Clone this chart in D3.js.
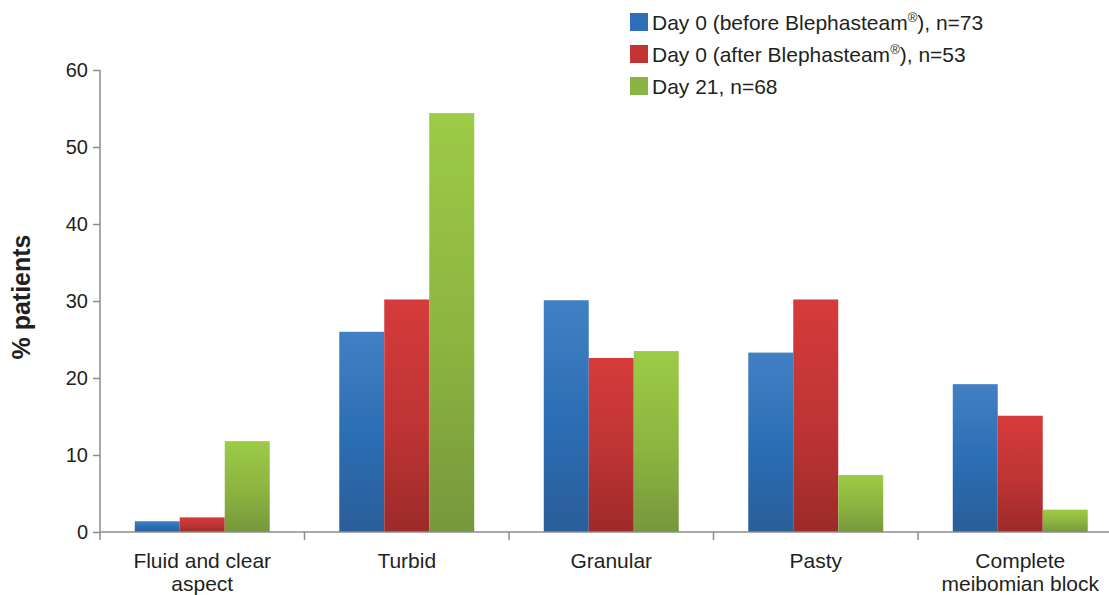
<!DOCTYPE html>
<html><head><meta charset="utf-8">
<script src="https://cdn.jsdelivr.net/npm/d3@7"></script>
<style>body{margin:0;background:#fff}svg{display:block}text{font-family:Arial,"Liberation Sans",sans-serif;fill:#231f20}</style>
</head><body>
<script>
const categories = [["Fluid and clear","aspect"],["Turbid"],["Granular"],["Pasty"],["Complete","meibomian block"]];
const seriesNames = ["Day 0 (before Blephasteam\u00AE), n=73","Day 0 (after Blephasteam\u00AE), n=53","Day 21, n=68"];
const before = [1.4, 26.0, 30.1, 23.3, 19.2];
const after = [1.9, 30.2, 22.6, 30.2, 15.1];
const day21 = [11.8, 54.4, 23.5, 7.4, 2.9];
const yTicks = [0,10,20,30,40,50,60];

const W=1109,H=595;
const svg=d3.select("body").append("svg").attr("width",W).attr("height",H);
const defs=svg.append("defs");
const grads=[["gB","#4280c4","#2a6db3","#2b5d99"],["gR","#d63b3b","#be3434","#9d2a2a"],["gG","#9ccb46","#8bb440","#76983c"]];
grads.forEach(([id,a,b,c])=>{
  const g=defs.append("linearGradient").attr("id",id).attr("x1",0).attr("y1",0).attr("x2",0).attr("y2",1);
  g.append("stop").attr("offset","0%").attr("stop-color",a);
  g.append("stop").attr("offset","55%").attr("stop-color",b);
  g.append("stop").attr("offset","100%").attr("stop-color",c);
});
const fills=["url(#gB)","url(#gR)","url(#gG)"];
const legendColors=["#2f6fb8","#c23333","#8ab543"];

const x0=100, yBase=532, yTop=70;
const y=d3.scaleLinear().domain([0,60]).range([yBase,yTop]);
const x=d3.scaleBand().domain(d3.range(categories.length)).range([x0,x0+5*204.5]).paddingInner(0).paddingOuter(0);
const xs=d3.scaleBand().domain([0,1,2]).range([0,x.bandwidth()*0.66]);
const off=x.bandwidth()*0.17;

const data=[before,after,day21];
data.forEach((vals,si)=>{
  svg.append("g").selectAll("rect").data(vals).join("rect")
    .attr("x",(d,i)=>x(i)+off+xs(si))
    .attr("width",xs.bandwidth())
    .attr("y",d=>y(d))
    .attr("height",d=>yBase-y(d))
    .attr("fill",fills[si]);
});

// y axis
const ya=svg.append("g").attr("transform",`translate(${x0},0)`)
  .call(d3.axisLeft(y).tickValues(yTicks).tickSize(7).tickPadding(5).tickFormat(d3.format("d")));
ya.select(".domain").remove();
ya.selectAll("line").attr("stroke","#8c8c8c").attr("stroke-width",1.5);
ya.selectAll("text").style("font-size","20px").attr("fill","#231f20");
svg.append("line").attr("x1",x0).attr("x2",x0).attr("y1",yTop).attr("y2",yBase+8).attr("stroke","#8c8c8c").attr("stroke-width",1.5);

// x axis
svg.append("line").attr("x1",x0).attr("x2",W).attr("y1",yBase).attr("y2",yBase).attr("stroke","#8c8c8c").attr("stroke-width",1.5);
const bounds=d3.range(1,categories.length+1).map(i=>x0+i*x.bandwidth());
svg.append("g").selectAll("line").data(bounds).join("line")
  .attr("x1",d=>d).attr("x2",d=>d).attr("y1",yBase).attr("y2",yBase+8)
  .attr("stroke","#8c8c8c").attr("stroke-width",1.5);
const cl=svg.append("g").selectAll("text").data(categories).join("text")
  .attr("x",(d,i)=>x(i)+x.bandwidth()/2).attr("y",568)
  .attr("text-anchor","middle").style("font-size","21px");
cl.each(function(d){
  const t=d3.select(this);
  d.forEach((line,j)=>t.append("tspan").attr("x",t.attr("x")).attr("dy",j?23:0).text(line));
});

// y label
svg.append("text").attr("transform","translate(30,297) rotate(-90)").attr("text-anchor","middle")
  .style("font-size","25px").style("font-weight","bold").text("% patients");

// legend
const lg=svg.append("g").selectAll("g").data(seriesNames).join("g")
  .attr("transform",(d,i)=>`translate(630,${13+i*32})`);
lg.append("rect").attr("width",18).attr("height",18).attr("fill",(d,i)=>legendColors[i]);
lg.append("text").attr("x",22).attr("y",17).style("font-size","21px").each(function(d){
  const t=d3.select(this);
  const parts=d.split("\u00AE");
  t.append("tspan").text(parts[0]);
  if(parts.length>1){t.append("tspan").attr("dy",-8).style("font-size","13px").text("\u00AE");t.append("tspan").attr("dy",8).text(parts[1]);}
});
</script>
</body></html>
